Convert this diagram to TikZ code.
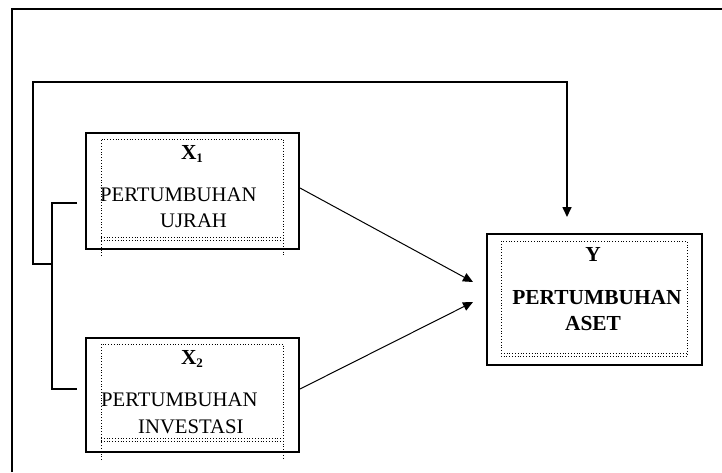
\documentclass[tikz,border=0pt]{standalone}
\usepackage{fontspec}
\setmainfont{Liberation Serif}
\usetikzlibrary{arrows.meta}
\begin{document}
\begin{tikzpicture}[x=1pt,y=-1pt,
  outerbox/.style={draw, line width=2pt, inner sep=0pt, anchor=north west},
  txt/.style={inner sep=0pt, font=\fontsize{20.7}{24}\selectfont},
  btxt/.style={inner sep=0pt, font=\fontsize{21.4}{24}\selectfont\bfseries},
  conn/.style={line width=1.6pt},
  arr/.style={line width=1pt, -{Triangle[length=10pt,width=9pt]}},
  dots/.style={dotted, line width=0.8pt}
]
\useasboundingbox (0,0) rectangle (722,472);
% frame
\draw[line width=2pt] (12,472) -- (12,9) -- (722,9);

% boxes
\node[outerbox, minimum width=213pt, minimum height=116pt] (x1) at (85,132) {};
\node[outerbox, minimum width=213pt, minimum height=114pt] (x2) at (85,337) {};
\node[outerbox, minimum width=215pt, minimum height=131pt] (y) at (486,233) {};

% inner dotted frames
\foreach \t/\b/\e in {139/240/256, 344/441/460}{
  \draw[dots] (101,\e) -- (101,\t) -- (283,\t) -- (283,\e);
  \draw[dots] (101,\b) -- (283,\b);
  \draw[dots] (101,\b-3) -- (283,\b-3);
}
\draw[dots] (501,241) rectangle (687,356);
\draw[dots] (501,353) -- (687,353);

% texts
\node[btxt] (x1l) at (192,154) {X{\fontsize{13}{13}\selectfont\raisebox{-3pt}{1}}};
\node[txt, anchor=west] (x1a) at (100,195) {PERTUMBUHAN};
\node[txt, anchor=west] (x1b) at (160,221) {UJRAH};
\node[btxt] (x2l) at (192,359) {X{\fontsize{13}{13}\selectfont\raisebox{-3pt}{2}}};
\node[txt, anchor=west] (x2a) at (101,400) {PERTUMBUHAN};
\node[txt, anchor=west] (x2b) at (138,427) {INVESTASI};
\node[btxt] (yl) at (593,254) {Y};
\node[btxt] (ya) at (597,298) {PERTUMBUHAN};
\node[btxt] (yb) at (593,324) {ASET};

% bracket and feedback line
\coordinate (bt) at (77,203);
\coordinate (bb) at (77,389);
\coordinate (j) at (52,264);
\coordinate (ya1) at (473,282);
\coordinate (ya2) at (473,302);
\draw[conn] (bt) -- (52,203) -- (52,389) -- (bb);
\draw[conn] (j) -- (33,264) -- (33,82) -- (567,82) -- (567,210);
\draw[arr, line width=1.6pt] (567,200) -- (567,217);

% arrows to Y
\draw[arr] (x1.east |- 0,188) -- (ya1);
\draw[arr] (x2.east |- 0,389) -- (ya2);
\end{tikzpicture}
\end{document}
